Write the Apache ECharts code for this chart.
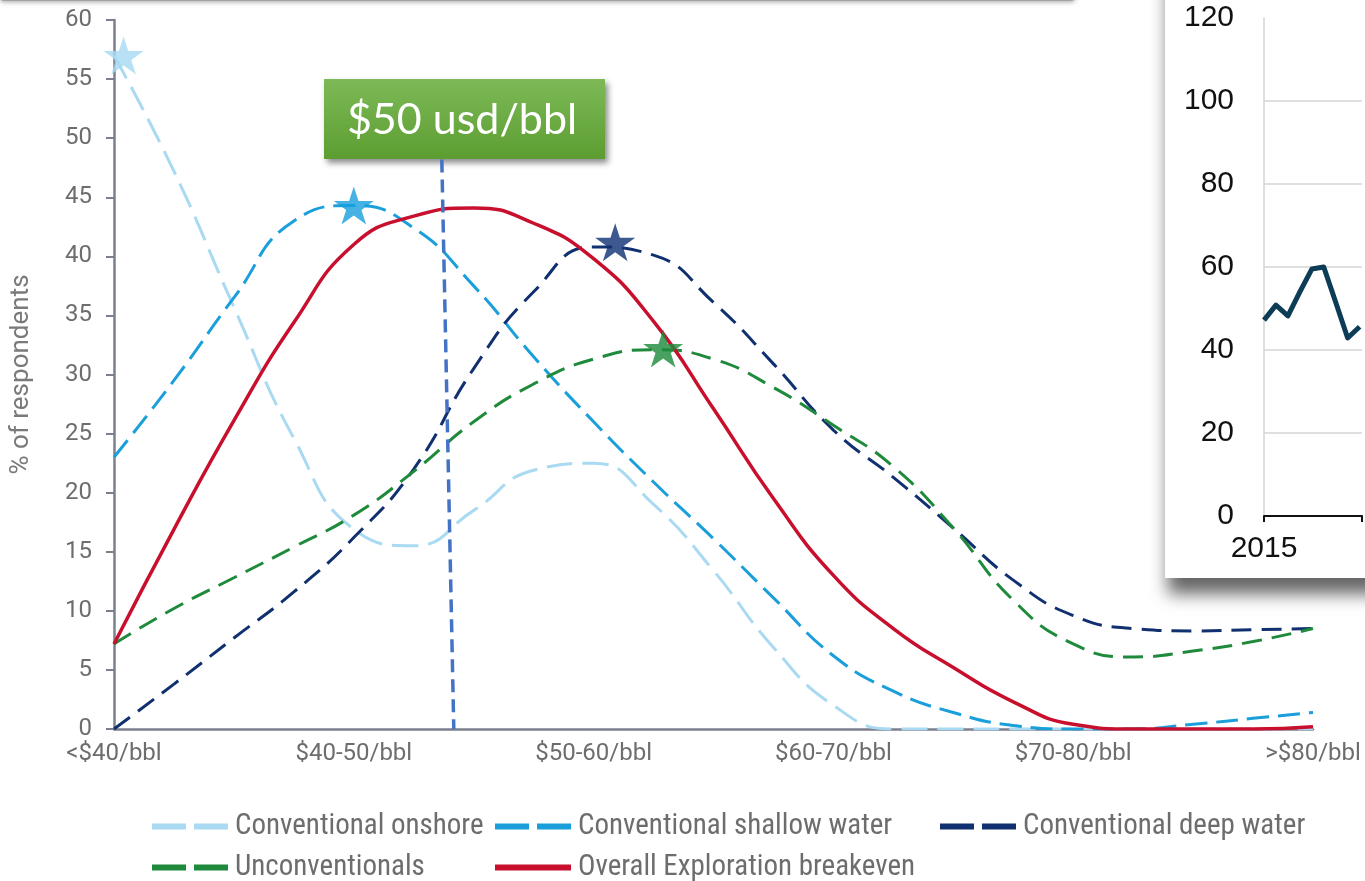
<!DOCTYPE html>
<html>
<head>
<meta charset="utf-8">
<script src="https://cdn.jsdelivr.net/npm/echarts@6/dist/echarts.min.js"></script>
<style>
  html, body { margin: 0; padding: 0; background: #ffffff; }
  #chart { width: 1365px; height: 881px; }
</style>
</head>
<body>
<div id="chart"></div>
<script>
// Breakeven price buckets (x axis) and the sample positions along that axis
const categories = ['<$40/bbl', '$40-50/bbl', '$50-60/bbl', '$60-70/bbl', '$70-80/bbl', '>$80/bbl'];
const samplePos = [0, 0.25, 0.5, 0.75, 1, 1.25, 1.5, 1.75, 2, 2.25, 2.5, 2.75, 3, 3.25, 3.5, 3.75, 4, 4.25, 4.5, 4.75, 5];

// % of respondents for each segment at the sample positions
const onshore = [57, 47.2, 35.7, 24.6, 16.9, 15.5, 18.5, 21.9, 22.5, 19.0, 13.4, 6.9, 2.0, 0, 0, 0, 0, 0, 0, 0, 0];
const shallow = [23, 29.5, 36.5, 43, 44.3, 42.4, 37.5, 31.5, 26, 20.9, 16.1, 11.1, 6.2, 3.2, 1.4, 0.3, 0, 0, 0.4, 0.9, 1.4];
const deep    = [0, 3.8, 7.7, 11.6, 16.2, 22, 30.5, 37, 40.8, 40.1, 36.1, 30.9, 25.3, 21.3, 17, 12.6, 9.6, 8.5, 8.3, 8.4, 8.5];
const unconv  = [7.2, 10.2, 12.8, 15.4, 18.1, 21.8, 26, 29.2, 31.3, 32.1, 31.3, 28.9, 25.7, 22.2, 17, 10.9, 7.2, 6.1, 6.6, 7.4, 8.5];
const overall = [7.2, 16.9, 26.1, 34.4, 41.0, 43.4, 44.1, 42.8, 39.8, 34.5, 27.1, 19.5, 13.0, 8.5, 5.2, 2.3, 0.4, 0, 0, 0, 0.2];

// Peak markers (position on the bucket axis, % of respondents)
const onshorePeak = [0.04, 57];
const shallowPeak = [1.0, 44.3];
const deepPeak    = [2.09, 41.2];
const unconvPeak  = [2.29, 32.2];

// $50/bbl reference line (top and bottom ends)
const refLine = [[1.367, 48.2], [1.417, 0]];
const refLabel = '$50 usd/bbl';

// Inset: monthly oil price, 2015 (months counted from January 2015)
const insetMonth = [0, 1, 2, 3, 4, 5, 6, 7, 8];
const insetPrice = [47.2, 50.8, 48.2, 54.0, 59.5, 60.0, 51.5, 42.9, 45.6];
const insetYears = ['2015'];

const pair = (ys) => samplePos.map((x, i) => [x, ys[i]]);

const C = {
  onshore: '#a9daf2',
  shallow: '#1a9fdb',
  deep: '#10306f',
  unconv: '#1f8a3c',
  overall: '#c8102e'
};

const STAR = 'path://M50,0 L61.2,34.5 L97.6,34.5 L68.2,55.9 L79.4,90.5 L50,69.1 L20.6,90.5 L31.8,55.9 L2.4,34.5 L38.8,34.5 Z';
const DASH_ICON = 'path://M0,0H34V6H0Z M42,0H76V6H42Z';
const SOLID_ICON = 'path://M0,0H76V6H0Z';

const grey = '#6d6d6d';
const axisGrey = '#7c7f8e';
const mainFont = 'Roboto';
const legendFont = "'Liberation Sans Narrow', 'Roboto Condensed', Roboto";

function lineSeries(name, ys, color, dash, width) {
  return {
    name: name, type: 'line', data: pair(ys), smooth: 0.5, symbol: 'none',
    xAxisIndex: 0, yAxisIndex: 0,
    lineStyle: { color: color, width: width, type: dash },
    itemStyle: { color: color },
    z: 2
  };
}
function starSeries(pt, color) {
  return {
    type: 'scatter', data: [pt], symbol: STAR, symbolSize: 40, symbolKeepAspect: true,
    xAxisIndex: 0, yAxisIndex: 0,
    itemStyle: { color: color }, z: 4, silent: true
  };
}
function legendItem(name, left, top, icon) {
  return {
    data: [name], left: left, top: top, icon: icon, itemWidth: 76, itemHeight: 6,
    padding: 0, itemGap: 0, selectedMode: false,
    textStyle: { fontFamily: legendFont, fontSize: 29, color: grey, padding: [0, 0, 0, 2] }
  };
}

const chart = echarts.init(document.getElementById('chart'), null, { renderer: 'canvas' });

chart.setOption({
  animation: false,
  backgroundColor: '#ffffff',
  grid: [
    { left: 113, top: 20, right: 52, bottom: 152, containLabel: false },
    { left: 1264, top: 18, right: 0, height: 498, containLabel: false }
  ],
  xAxis: [
    {
      type: 'value', gridIndex: 0, min: 0, max: 5, interval: 1,
      axisLine: { show: true, lineStyle: { color: axisGrey, width: 2.5 } },
      axisTick: { show: false },
      splitLine: { show: false },
      axisLabel: {
        margin: 13, fontFamily: mainFont, fontSize: 24, color: grey,
        formatter: (v) => categories[v] || ''
      }
    },
    {
      // visible span of the inset time axis, in months
      type: 'value', gridIndex: 1, min: 0, max: 8.2, interval: 12, z: 10,
      axisLine: { show: true, lineStyle: { color: '#111', width: 2 } },
      axisTick: { show: true, length: 6, lineStyle: { color: '#111', width: 2 } },
      splitLine: { show: false },
      axisLabel: {
        margin: 18, fontFamily: 'Liberation Sans', fontSize: 30, color: '#111',
        formatter: (v) => insetYears[v / 12] || ''
      }
    }
  ],
  yAxis: [
    {
      type: 'value', gridIndex: 0, min: 0, max: 60, interval: 5,
      name: '% of respondents', nameLocation: 'middle', nameGap: 80,
      nameTextStyle: { fontFamily: mainFont, fontSize: 26, color: '#7a7a7a' },
      axisLine: { show: true, lineStyle: { color: axisGrey, width: 2.5 } },
      axisTick: { show: true, length: 8, lineStyle: { color: axisGrey, width: 2 } },
      splitLine: { show: false },
      axisLabel: { margin: 22, fontFamily: mainFont, fontSize: 24, color: grey }
    },
    {
      type: 'value', gridIndex: 1, min: 0, max: 120, interval: 20, z: 10,
      axisLine: { show: true, lineStyle: { color: '#d4d4d4', width: 1.5 } },
      axisTick: { show: false },
      splitLine: { show: true, showMaxLine: false, lineStyle: { color: '#d4d4d4', width: 1.5 } },
      axisLabel: { margin: 30, fontFamily: 'Liberation Sans', fontSize: 30, color: '#111' }
    }
  ],
  legend: [
    legendItem('Conventional onshore', 152, 812, DASH_ICON),
    legendItem('Conventional shallow water', 495, 812, DASH_ICON),
    legendItem('Conventional deep water', 940, 812, DASH_ICON),
    legendItem('Unconventionals', 152, 853, DASH_ICON),
    legendItem('Overall Exploration breakeven', 495, 853, SOLID_ICON)
  ],
  graphic: [
    // shadow edge of the panel above the chart
    { type: 'rect', shape: { x: 0, y: -8, width: 1075, height: 9, r: 4 }, z: 1,
      style: { fill: '#a3a3a3', shadowBlur: 5, shadowOffsetY: 1, shadowColor: 'rgba(0,0,0,0.35)' } },
    // inset panel background
    { type: 'rect', shape: { x: 1165, y: -30, width: 260, height: 608 }, z: 5,
      style: { fill: '#ffffff', shadowBlur: 16, shadowOffsetX: 3, shadowOffsetY: 16, shadowColor: 'rgba(0,0,0,0.6)' } },
    // $50 callout box
    {
      type: 'group', x: 324, y: 79, z: 30,
      children: [
        { type: 'rect', shape: { x: 0, y: 0, width: 281, height: 80 },
          style: {
            fill: new echarts.graphic.LinearGradient(0, 0, 0, 1, [
              { offset: 0, color: '#7dba57' }, { offset: 1, color: '#5c9d31' }
            ]),
            shadowBlur: 6, shadowOffsetX: 3, shadowOffsetY: 4, shadowColor: 'rgba(0,0,0,0.45)'
          } },
        { type: 'text', x: 138, y: 41,
          style: { text: refLabel, fill: '#ffffff', font: '43px Lato', align: 'center', verticalAlign: 'middle' } }
      ]
    }
  ],
  series: [
    lineSeries('Conventional onshore', onshore, C.onshore, [26, 10], 3),
    lineSeries('Conventional shallow water', shallow, C.shallow, [22, 9], 3),
    lineSeries('Conventional deep water', deep, C.deep, [20, 10], 3),
    lineSeries('Unconventionals', unconv, C.unconv, [20, 10], 3),
    lineSeries('Overall Exploration breakeven', overall, C.overall, 'solid', 3.5),
    {
      type: 'line', data: refLine, symbol: 'none', xAxisIndex: 0, yAxisIndex: 0, z: 3, silent: true,
      lineStyle: { color: '#4472c4', width: 3.5, type: [13, 7] }
    },
    starSeries(onshorePeak, '#a6d9f3'),
    starSeries(shallowPeak, '#169fdc'),
    starSeries(deepPeak, '#0e2f73'),
    starSeries(unconvPeak, '#1a8a3a'),
    {
      type: 'line', data: insetMonth.map((m, i) => [m, insetPrice[i]]), symbol: 'none',
      xAxisIndex: 1, yAxisIndex: 1, z: 11, silent: true,
      lineStyle: { color: '#0d3c56', width: 5, join: 'round' }
    }
  ]
});
</script>
</body>
</html>
